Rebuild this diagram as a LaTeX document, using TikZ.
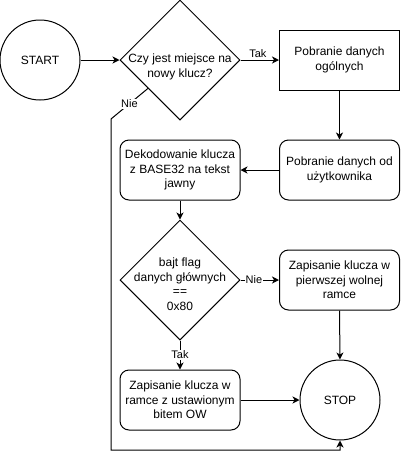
\documentclass[tikz,border=0pt]{standalone}
\usepackage{fontspec}
\setmainfont{Liberation Sans}
\usetikzlibrary{shapes.geometric,arrows.meta,calc}

\begin{document}
\begin{tikzpicture}[x=1pt,y=-1pt,
  every node/.style={font=\fontsize{12}{14.5}\selectfont, align=center},
  box/.style={draw, line width=1pt, minimum width=120pt, minimum height=60pt, inner sep=0pt},
  rbox/.style={box, rounded corners=9pt},
  term/.style={draw, circle, line width=1pt, minimum size=80pt, inner sep=0pt},
  dia/.style={draw, diamond, line width=1pt, minimum width=120pt, minimum height=120pt, inner sep=0pt},
  arr/.style={line width=1pt, -{Stealth[length=7pt,width=7pt,inset=2pt]}},
  lbl/.style={fill=white, inner sep=1pt, font=\fontsize{11}{13}\selectfont}
]
\useasboundingbox (0,0) rectangle (400,459);

\node[term] (start) at (40,60) {START};
\node[dia] (d1) at (180,60) {};
\node (d1t) at (180,67) {Czy jest miejsce na\\nowy klucz?};
\node[box] (b1) at (339.5,60) {Pobranie danych\\ogólnych};
\node[rbox] (b2) at (339.5,170) {Pobranie danych od\\użytkownika};
\node[rbox] (b3) at (180,170) {Dekodowanie klucza\\z BASE32 na tekst\\jawny};
\node[dia] (d2) at (180,280) {};
\node (d2t) at (180,284) {bajt flag\\danych głównych\\==\\0x80};
\node[rbox] (b4) at (339.5,280) {Zapisanie klucza w\\pierwszej wolnej\\ramce};
\node[rbox] (b5) at (180,400) {Zapisanie klucza w\\ramce z ustawionym\\bitem OW};
\node[term] (stop) at (340,400) {STOP};

\coordinate (n1) at ($(d1.west)!0.47!(d1.south)$);
\coordinate (n2) at (111,119);
\coordinate (n3) at (111,450);
\coordinate (n4) at (340,450);

\draw[arr] (start.east) -- (d1.west);
\draw[arr] (d1.east) -- node[above, inner sep=2pt, font=\fontsize{11}{13}\selectfont, pos=0.45] {Tak} (b1.west);
\draw[arr] (b1.south) -- (b2.north);
\draw[arr] (b2.west) -- (b3.east);
\draw[arr] (b3.south) -- (d2.north);
\draw[arr] (d2.east) -- node[lbl, pos=0.35] {Nie} (b4.west);
\draw[arr] (b4.south) -- (stop.north);
\draw[arr] (d2.south) -- node[lbl] {Tak} (b5.north);
\draw[arr] (b5.east) -- (stop.west);
\draw[arr] (n1) -- node[lbl] {Nie} (n2) -- (n3) -- (n4) -- (stop.south);
\end{tikzpicture}
\end{document}
